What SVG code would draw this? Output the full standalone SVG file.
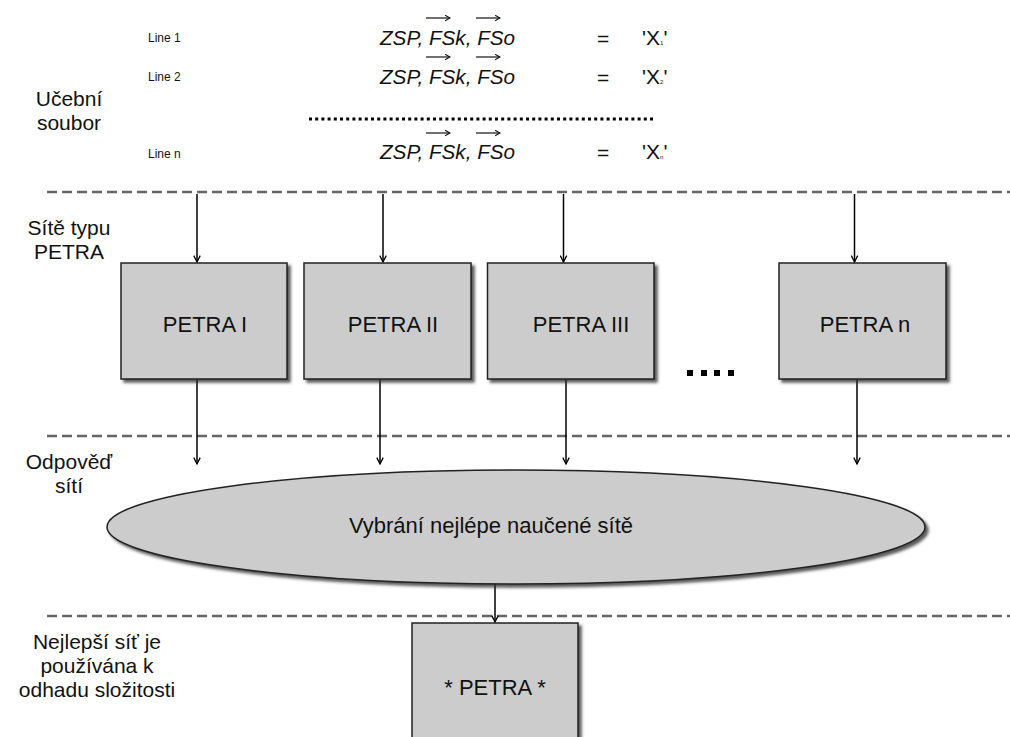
<svg xmlns="http://www.w3.org/2000/svg" width="1010" height="737" viewBox="0 0 1010 737">
<style>
  .lbl { font-family: "Liberation Sans", Arial, sans-serif; font-size: 22px; fill: #111; text-anchor: middle; }
  .side { font-family: "Liberation Sans", Arial, sans-serif; font-size: 21px; fill: #111; text-anchor: middle; }
  .small { font-family: "Liberation Sans", Arial, sans-serif; font-size: 12px; fill: #111; }
  .vec { font-family: "Liberation Sans", Arial, sans-serif; font-size: 21px; font-style: italic; fill: #111; }
  .eq { font-family: "Liberation Sans", Arial, sans-serif; font-size: 21px; fill: #111; }
  .sep { stroke: #666; stroke-width: 2.5; stroke-dasharray: 10 5; fill: none; }
  .node { fill: #cccccc; stroke: #222; stroke-width: 1.5; filter: url(#sh); }
  .conn { stroke: #000; stroke-width: 1.5; fill: none; }
  .vecarr { stroke: #111; stroke-width: 1.2; fill: none; }
</style>
<defs>
  <filter id="sh" x="-10%" y="-10%" width="130%" height="130%">
    <feDropShadow dx="3" dy="3" stdDeviation="1.5" flood-color="#333" flood-opacity="0.8"/>
  </filter>
  <marker id="ah" viewBox="0 0 10 10" refX="9" refY="5" markerWidth="8" markerHeight="8" markerUnits="userSpaceOnUse" orient="auto">
    <path d="M1,1 L9,5 L1,9" fill="none" stroke="#000" stroke-width="1.6"/>
  </marker>
  <marker id="vh" viewBox="0 0 10 10" refX="9" refY="5" markerWidth="7" markerHeight="7" markerUnits="userSpaceOnUse" orient="auto">
    <path d="M2,1 L9,5 L2,9" fill="none" stroke="#111" stroke-width="1.5"/>
  </marker>
</defs>
<rect width="1010" height="737" fill="#fff"/>

<!-- separators -->
<g id="separators">
  <line class="sep" x1="47" y1="192" x2="1010" y2="192"/>
  <line class="sep" x1="47" y1="436" x2="1010" y2="436"/>
  <line class="sep" x1="47" y1="616" x2="1010" y2="616"/>
</g>

<!-- section labels -->
<g id="label-ucebni">
  <text class="side" x="69" y="106">Učební</text>
  <text class="side" x="69" y="130">soubor</text>
</g>
<g id="label-site">
  <text class="side" x="69" y="235">Sítě typu</text>
  <text class="side" x="69" y="259">PETRA</text>
</g>
<g id="label-odpoved">
  <text class="side" x="69" y="469">Odpověď</text>
  <text class="side" x="69" y="493">sítí</text>
</g>
<g id="label-nejlepsi">
  <text class="side" x="97" y="649">Nejlepší síť je</text>
  <text class="side" x="97" y="673">používána k</text>
  <text class="side" x="97" y="697">odhadu složitosti</text>
</g>

<!-- training set lines -->
<g id="training-set">
  <text class="small" x="148" y="42">Line 1</text>
  <text class="vec" x="380" y="45" textLength="135" lengthAdjust="spacingAndGlyphs">ZSP, FSk, FSo</text>
  <line class="vecarr" x1="426" y1="18" x2="450" y2="18" marker-end="url(#vh)"/>
  <line class="vecarr" x1="476" y1="18" x2="500" y2="18" marker-end="url(#vh)"/>
  <text class="eq" x="597" y="46">=</text>
  <text class="eq" x="642" y="45">'X<tspan font-size="6">1</tspan>'</text>

  <text class="small" x="148" y="81">Line 2</text>
  <text class="vec" x="380" y="84" textLength="135" lengthAdjust="spacingAndGlyphs">ZSP, FSk, FSo</text>
  <line class="vecarr" x1="426" y1="57" x2="450" y2="57" marker-end="url(#vh)"/>
  <line class="vecarr" x1="476" y1="57" x2="500" y2="57" marker-end="url(#vh)"/>
  <text class="eq" x="597" y="85">=</text>
  <text class="eq" x="642" y="84">'X<tspan font-size="6">2</tspan>'</text>

  <line x1="309" y1="119" x2="655" y2="119" stroke="#000" stroke-width="3" stroke-dasharray="3 3.2"/>

  <text class="small" x="148" y="158">Line n</text>
  <text class="vec" x="380" y="159" textLength="135" lengthAdjust="spacingAndGlyphs">ZSP, FSk, FSo</text>
  <line class="vecarr" x1="426" y1="133" x2="450" y2="133" marker-end="url(#vh)"/>
  <line class="vecarr" x1="476" y1="133" x2="500" y2="133" marker-end="url(#vh)"/>
  <text class="eq" x="597" y="160">=</text>
  <text class="eq" x="642" y="159">'X<tspan font-size="6">n</tspan>'</text>
</g>

<!-- connectors -->
<g id="connectors">
  <line class="conn" x1="197" y1="194" x2="197" y2="262" marker-end="url(#ah)"/>
  <line class="conn" x1="383" y1="194" x2="383" y2="262" marker-end="url(#ah)"/>
  <line class="conn" x1="563.5" y1="194" x2="563.5" y2="262" marker-end="url(#ah)"/>
  <line class="conn" x1="854.5" y1="194" x2="854.5" y2="262" marker-end="url(#ah)"/>

  <line class="conn" x1="197" y1="379" x2="197" y2="464" marker-end="url(#ah)"/>
  <line class="conn" x1="380" y1="379" x2="380" y2="464" marker-end="url(#ah)"/>
  <line class="conn" x1="566" y1="379" x2="566" y2="464" marker-end="url(#ah)"/>
  <line class="conn" x1="857" y1="379" x2="857" y2="464" marker-end="url(#ah)"/>

  <line class="conn" x1="495" y1="584" x2="495" y2="622" marker-end="url(#ah)"/>
</g>

<!-- PETRA nodes -->
<g id="petra-1">
  <rect class="node" x="121" y="263" width="166" height="116"/>
  <text class="lbl" x="205" y="332">PETRA I</text>
</g>
<g id="petra-2">
  <rect class="node" x="304" y="263" width="167" height="116"/>
  <text class="lbl" x="393" y="332">PETRA II</text>
</g>
<g id="petra-3">
  <rect class="node" x="487.5" y="263" width="166.5" height="116"/>
  <text class="lbl" x="581" y="332">PETRA III</text>
</g>
<g id="ellipsis">
  <rect x="687" y="370" width="6" height="6" fill="#000"/>
  <rect x="701" y="370" width="6" height="6" fill="#000"/>
  <rect x="714" y="370" width="6" height="6" fill="#000"/>
  <rect x="728" y="370" width="6" height="6" fill="#000"/>
</g>
<g id="petra-n">
  <rect class="node" x="779" y="263" width="167" height="116"/>
  <text class="lbl" x="865" y="332">PETRA n</text>
</g>

<!-- selection ellipse -->
<g id="selection">
  <ellipse class="node" cx="516" cy="527" rx="409" ry="57"/>
  <text class="lbl" x="491" y="533">Vybrání nejlépe naučené sítě</text>
</g>

<!-- best network -->
<g id="petra-best">
  <rect class="node" x="412" y="623" width="166" height="130"/>
  <text class="lbl" x="495" y="695">* PETRA *</text>
</g>
</svg>
